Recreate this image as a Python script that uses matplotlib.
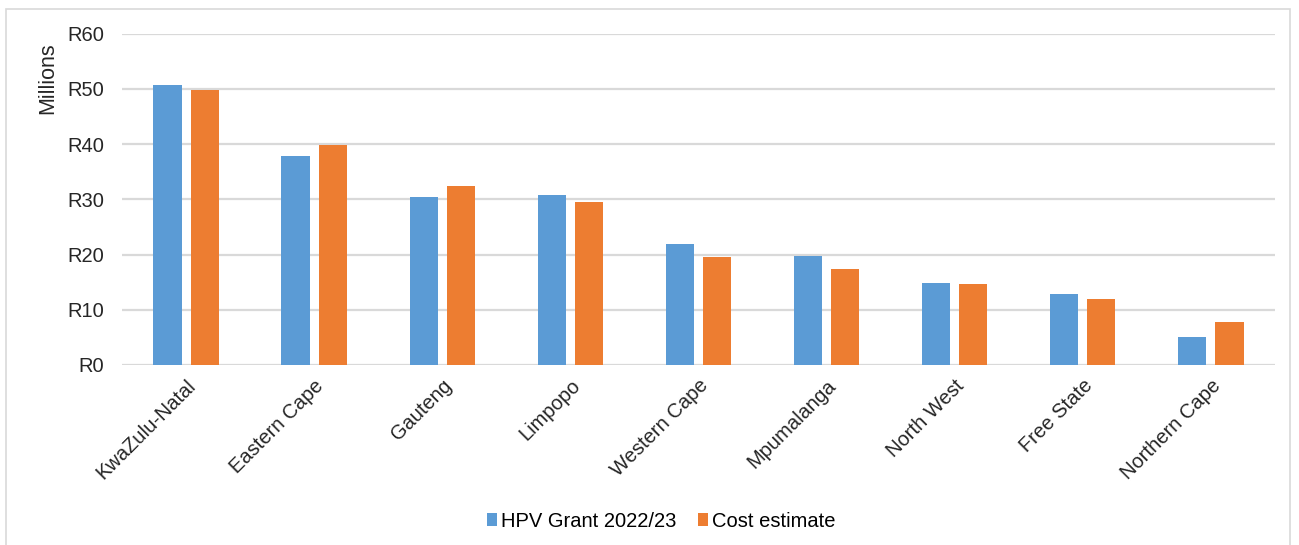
import matplotlib.pyplot as plt
from matplotlib.patches import Rectangle
import numpy as np

plt.rcParams['font.family'] = ['Liberation Sans', 'DejaVu Sans']

provinces = ["KwaZulu-Natal", "Eastern Cape", "Gauteng", "Limpopo", "Western Cape",
             "Mpumalanga", "North West", "Free State", "Northern Cape"]
hpv_grant = [50.7, 37.8, 30.5, 30.8, 21.9, 19.8, 14.9, 12.9, 5.1]
cost_estimate = [49.8, 39.9, 32.5, 29.6, 19.5, 17.4, 14.7, 11.9, 7.8]
y_ticks = [0, 10, 20, 30, 40, 50, 60]
y_tick_labels = ["R0", "R10", "R20", "R30", "R40", "R50", "R60"]

blue = "#5B9BD5"
orange = "#ED7D31"
txt = "#262626"
fs = 14.5

fig = plt.figure(figsize=(12.99, 5.45), dpi=100)
ax = fig.add_axes([0.0939, 0.3303, 0.8876, 0.6079])

x = np.arange(len(provinces))
w = 0.22
ax.bar(x - 0.145, hpv_grant, w, color=blue, label="HPV Grant 2022/23", zorder=3)
ax.bar(x + 0.145, cost_estimate, w, color=orange, label="Cost estimate", zorder=3)

ax.set_xlim(-0.5, len(provinces) - 0.5)
ax.set_ylim(0, 60)
ax.set_yticks(y_ticks)
ax.set_yticklabels(y_tick_labels, fontsize=fs, color=txt)
ax.set_xticks(x)
ax.set_xticklabels(provinces, rotation=45, ha="right", rotation_mode="anchor",
                   fontsize=fs, color=txt)
ax.tick_params(axis="both", length=0)
ax.tick_params(axis="y", pad=13)
ax.tick_params(axis="x", pad=8)
ax.grid(axis="y", color="#D9D9D9", linewidth=1.6, zorder=0)
for s in ax.spines.values():
    s.set_visible(False)

fig.text(0.037, 0.857, "Millions", rotation=90, ha="center", va="center",
         fontsize=15.5, color=txt)

ax.legend(loc="center", bbox_to_anchor=(0.509, 0.044), bbox_transform=fig.transFigure,
          ncol=2, frameon=False, fontsize=fs, handlelength=0.5, handleheight=0.6,
          handletextpad=0.2, columnspacing=1.1)

# light border around the chart area
fig.patches.append(Rectangle((6 / 1299, -0.01), 1284 / 1299, 1 - 9 / 545 + 0.01,
                             transform=fig.transFigure, fill=False,
                             edgecolor="#D9D9D9", linewidth=1.2))

fig.savefig("out.png", dpi=100, facecolor="white")
